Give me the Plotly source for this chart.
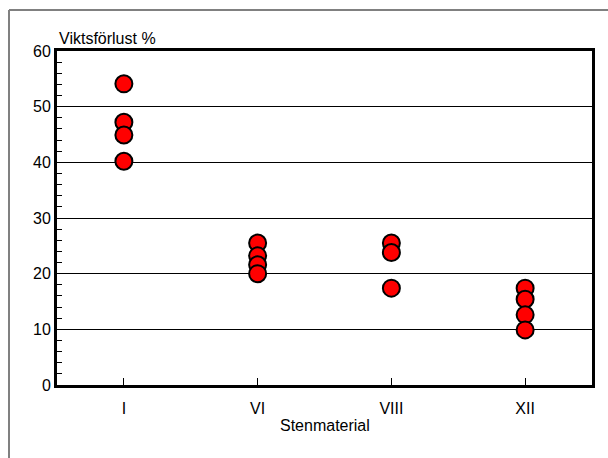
import plotly.graph_objects as go

categories = ["I", "VI", "VIII", "XII"]
values_I = [54.1, 47.2, 44.9, 40.2]
values_VI = [25.5, 23.2, 21.6, 20.0]
values_VIII = [25.5, 23.8, 17.4]
values_XII = [17.4, 15.4, 12.6, 9.9]
y_ticks = [0, 10, 20, 30, 40, 50, 60]

groups = [values_I, values_VI, values_VIII, values_XII]
xs, ys = [], []
for cat, vals in zip(categories, groups):
    for v in vals:
        xs.append(cat)
        ys.append(v)

font_family = "Liberation Sans, Arial, sans-serif"

fig = go.Figure()
fig.add_trace(go.Scatter(
    x=xs, y=ys, mode="markers",
    marker=dict(size=17, color="#ff0000", line=dict(color="black", width=2)),
    showlegend=False, hoverinfo="skip", cliponaxis=False,
))

W, H = 608, 458
L, R, T, B = 57, 16, 51, 73
pw, ph = W - L - R, H - T - B

def px(x):
    return (x - L) / pw

def py(y):
    return (H - B - y) / ph

fig.update_layout(
    width=W, height=H,
    margin=dict(l=L, r=R, t=T, b=B),
    paper_bgcolor="white", plot_bgcolor="white",
    font=dict(family=font_family, size=16, color="black"),
    xaxis=dict(
        type="category", categoryorder="array", categoryarray=categories,
        range=[-0.5, 3.5],
        showline=True, linecolor="black", linewidth=3, mirror=True,
        showgrid=False, zeroline=False,
        ticks="inside", ticklen=7, tickwidth=1, tickcolor="black",
        ticklabelstandoff=7,
        tickfont=dict(size=16),
    ),
    yaxis=dict(
        range=[0, 60], tickvals=y_ticks,
        showline=True, linecolor="black", linewidth=3, mirror=True,
        showgrid=True, gridcolor="black", gridwidth=1, zeroline=False,
        ticks="inside", ticklen=5, tickwidth=1, tickcolor="black",
        minor=dict(dtick=2, ticks="inside", ticklen=5, tickwidth=1, tickcolor="black", showgrid=False),
        tickfont=dict(size=16),
    ),
    annotations=[
        dict(text="Viktsförlust %", xref="paper", yref="paper",
             x=0, y=py(39), xanchor="left", yanchor="middle", showarrow=False,
             font=dict(size=16)),
        dict(text="Stenmaterial", xref="paper", yref="paper",
             x=0.5, y=py(425), xanchor="center", yanchor="middle", showarrow=False,
             font=dict(size=16)),
    ],
    shapes=[
        dict(type="line", xref="paper", yref="paper",
             x0=px(9), y0=py(10), x1=px(620), y1=py(10),
             line=dict(color="#808080", width=2)),
        dict(type="line", xref="paper", yref="paper",
             x0=px(9), y0=py(10), x1=px(9), y1=py(470),
             line=dict(color="#808080", width=2)),
    ],
)

fig.write_html("out.html")
